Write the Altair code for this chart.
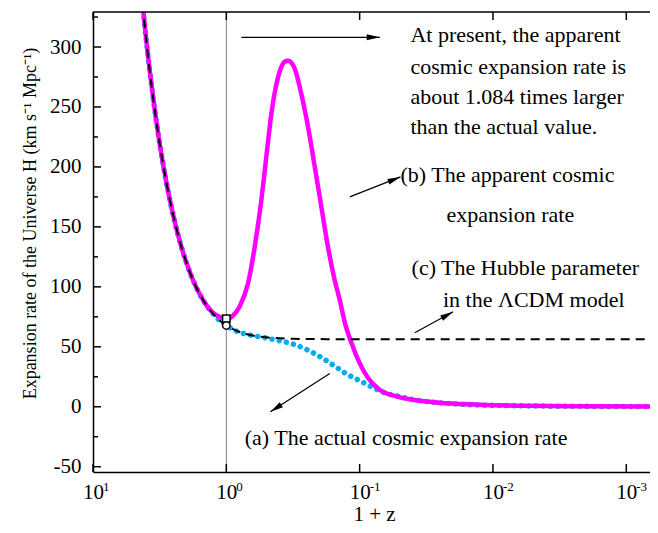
import altair as alt
import pandas as pd

FONT = "Liberation Serif"

# ---------------- data ----------------
# (c) Hubble parameter in the LambdaCDM model (black dashed)
lcdm_x = [4.467, 3.981, 3.548, 3.162, 2.818, 2.512, 2.239, 1.995, 1.778, 1.585, 1.413, 1.259, 1.122,
          1.0, 0.891, 0.794, 0.631, 0.501, 0.316, 0.178, 0.1, 0.01, 0.001, 0.0005]
lcdm_h = [360.7, 305.1, 258.6, 219.5, 187.3, 160.5, 138.4, 120.4, 105.7, 94.0, 84.8, 77.6, 72.0,
          67.8, 64.7, 62.3, 59.4, 57.9, 56.7, 56.4, 56.3, 56.3, 56.3, 56.3]

# (a) actual cosmic expansion rate (blue dots)
actual_x = [4.467, 3.981, 3.548, 3.162, 2.818, 2.512, 2.239, 1.995, 1.778, 1.585, 1.413, 1.259, 1.122,
            1.0, 0.891, 0.794, 0.708, 0.631, 0.501, 0.398, 0.316, 0.251, 0.2, 0.158, 0.126, 0.1,
            0.0794, 0.0631, 0.0501, 0.0398, 0.0316, 0.02, 0.0126, 0.0063, 0.0025, 0.001, 0.0005]
actual_h = [360.7, 305.1, 258.6, 219.5, 187.3, 160.5, 138.4, 120.4, 105.7, 94.0, 84.8, 77.6, 72.0,
            67.8, 64.5, 62.0, 60.5, 59.3, 57.3, 55.0, 52.3, 47.8, 42.0, 34.8, 27.5, 21.8,
            16.0, 11.2, 8.5, 6.0, 4.4, 2.5, 1.5, 0.8, 0.4, 0.2, 0.1]

# (b) apparent cosmic expansion rate (magenta)
apparent_x = [4.467, 3.981, 3.548, 3.162, 2.818, 2.512, 2.239, 1.995, 1.778, 1.585, 1.413, 1.259, 1.122,
              1.0, 0.955, 0.891, 0.794, 0.687, 0.612, 0.546, 0.501, 0.459, 0.409, 0.365, 0.344,
              0.307, 0.274, 0.244, 0.217, 0.194, 0.173, 0.154, 0.141, 0.129, 0.115, 0.1,
              0.0865, 0.0708, 0.0531, 0.0355, 0.0224, 0.0126, 0.00562, 0.002, 0.0005]
apparent_h = [360.7, 305.1, 258.6, 219.5, 187.3, 160.5, 138.4, 120.4, 105.7, 94.0, 84.8, 78.5, 75.0,
              73.6, 73.6, 76.0, 83.6, 103.0, 133.6, 172.5, 208.6, 244.7, 275.0, 287.7, 288.6,
              282.0, 261.0, 233.6, 200.0, 167.0, 133.6, 105.8, 89.0, 70.0, 53.0, 36.4,
              24.0, 14.2, 8.6, 5.0, 3.0, 1.7, 0.8, 0.4, 0.2]

# present-day markers at 1+z = 1
marker_x = [1.0, 1.0]
marker_h = [73.5, 67.8]
marker_shape = ["square", "circle"]

# annotation arrows (start -> tip) and texts
arrow_x = [0.771, 0.1186, 0.0386, 0.1675]
arrow_y = [308.1, 175.0, 61.7, 27.8]
arrow_x2 = [0.0706, 0.0494, 0.0199, 0.467]
arrow_y2 = [308.1, 191.7, 79.2, -4.2]
arrow_angle = [0, 338.5, 331.3, 147.1]

note_text = ["At present, the apparent", "cosmic expansion rate is", "about 1.084 times larger",
             "than the actual value.", "(b) The apparent cosmic", "expansion rate",
             "(c) The Hubble parameter", "in the \u039bCDM model",
             "(a) The actual cosmic  expansion rate"]
note_x = [0.0416, 0.0416, 0.0416, 0.0416, 0.0494, 0.0223, 0.0408, 0.0237, 0.728]
note_y = [309.8, 283.1, 258.1, 233.1, 193.1, 159.75, 115.6, 88.9, -26.1]

x_ticks = [10, 1, 0.1, 0.01, 0.001]
x_exps = ["1", "0", "-1", "-2", "-3"]
y_major = [-50, 0, 50, 100, 150, 200, 250, 300]
y_minor = [-25, 25, 75, 125, 175, 225, 275, 325]

# ---------------- chart ----------------
W, H = 557, 460

xs = alt.Scale(type="log", domain=[0.000664, 10], reverse=True, nice=False)
ys = alt.Scale(domain=[-54.4, 329.2], nice=False, zero=False)

x_axis = alt.Axis(values=x_ticks, labelExpr="'10'", ticks=False, tickSize=0, grid=False,
                  domain=True, domainColor="black", domainWidth=1.5, labelFlush=False,
                  labelOverlap=False,
                  labelFont=FONT, labelFontSize=21, labelPadding=9, labelColor="black",
                  title="1 + z", titleFont=FONT, titleFontSize=21, titleFontWeight="normal",
                  titleColor="black", titleX=281, titleY=42, titleBaseline="middle")
y_axis = alt.Axis(values=y_major, labelExpr="'' + datum.value", ticks=False, tickSize=0, grid=False,
                  domain=True, domainColor="black", domainWidth=1.5, labelFlush=False,
                  labelOverlap=False,
                  labelFont=FONT, labelFontSize=21, labelPadding=12, labelColor="black",
                  title="Expansion rate of the Universe H (km s\u207b\u00b9 Mpc\u207b\u00b9)",
                  titleFont=FONT, titleFontSize=18, titleFontWeight="normal", titleColor="black",
                  titleX=-63, titleY=211, titleAngle=270, titleAlign="center", titleBaseline="middle")

XE = alt.X("x:Q", scale=xs, axis=x_axis)
YE = alt.Y("y:Q", scale=ys, axis=y_axis)

df_l = pd.DataFrame({"x": lcdm_x, "y": lcdm_h})
df_a = pd.DataFrame({"x": actual_x, "y": actual_h})
df_b = pd.DataFrame({"x": apparent_x, "y": apparent_h})
df_m = pd.DataFrame({"x": marker_x, "y": marker_h, "s": marker_shape})
df_arr = pd.DataFrame({"x": arrow_x, "y": arrow_y, "x2": arrow_x2, "y2": arrow_y2, "a": arrow_angle})
df_head = pd.DataFrame({"x": arrow_x2, "y": arrow_y2, "a": arrow_angle})
df_txt = pd.DataFrame({"x": note_x, "y": note_y, "t": note_text})
df_xt = pd.DataFrame({"x": x_ticks, "t": x_exps})
df_ymaj = pd.DataFrame({"y": y_major})
df_ymin = pd.DataFrame({"y": y_minor})
df_one = pd.DataFrame({"x": [1.0]})

order_desc = alt.Order("x:Q", sort="descending")

vline = alt.Chart(df_one).mark_rule(color="#808080", strokeWidth=1).encode(x=XE)

blue = alt.Chart(df_a).mark_line(
    color="#00AEEF", strokeWidth=5.5, strokeDash=[0.01, 7.3], strokeCap="round",
    interpolate="monotone", clip=True
).encode(x=XE, y=YE, order=order_desc)

magenta = alt.Chart(df_b).mark_line(
    color="#FF00FF", strokeWidth=4.5, interpolate="monotone", clip=True
).encode(x=XE, y=YE, order=order_desc)

dashed = alt.Chart(df_l).mark_line(
    color="black", strokeWidth=2, strokeDash=[9, 6], interpolate="monotone", clip=True
).encode(x=XE, y=YE, order=order_desc)

markers = alt.Chart(df_m).mark_point(
    filled=True, fill="white", stroke="black", strokeWidth=1.5, size=55, opacity=1
).encode(x=XE, y=YE, shape=alt.Shape("s:N", scale=None))

arrows = alt.Chart(df_arr).mark_rule(color="black", strokeWidth=1.2).encode(
    x=XE, y=YE, x2="x2:Q", y2="y2:Q")
heads = alt.Chart(df_head).mark_point(
    shape="M0,0L-2,-0.45L-2,0.45Z", filled=True, color="black", size=170, opacity=1
).encode(x=XE, y=YE, angle=alt.Angle("a:Q", scale=None))

notes = alt.Chart(df_txt).mark_text(
    align="left", baseline="middle", font=FONT, fontSize=22, color="black"
).encode(x=XE, y=YE, text="t:N")

exps = alt.Chart(df_xt).mark_text(
    align="left", baseline="top", font=FONT, fontSize=13, color="black", dx=10
).encode(x=XE, y=alt.value(H + 9), text="t:N")

tk = dict(color="black", strokeWidth=1.5)
top_line = alt.Chart(df_one).mark_rule(**tk).encode(
    x=alt.value(0), x2=alt.value(W), y=alt.value(0))
yl_maj = alt.Chart(df_ymaj).mark_rule(**tk).encode(y=YE, x=alt.value(0), x2=alt.value(8))
yl_min = alt.Chart(df_ymin).mark_rule(**tk).encode(y=YE, x=alt.value(0), x2=alt.value(5))
xb = alt.Chart(df_xt).mark_rule(**tk).encode(x=XE, y=alt.value(H - 8), y2=alt.value(H))
xt = alt.Chart(df_xt).mark_rule(**tk).encode(x=XE, y=alt.value(0), y2=alt.value(8))

chart = alt.layer(
    vline, blue, magenta, dashed, markers, arrows, heads, notes, exps,
    top_line, yl_maj, yl_min, xb, xt
).properties(
    width=W, height=H,
    autosize=alt.AutoSizeParams(type="none"),
    padding={"left": 85, "top": 4, "right": 0, "bottom": 53},
).configure_view(stroke=None)

chart.save("out.html", embed_options={"renderer": "svg", "actions": False})
